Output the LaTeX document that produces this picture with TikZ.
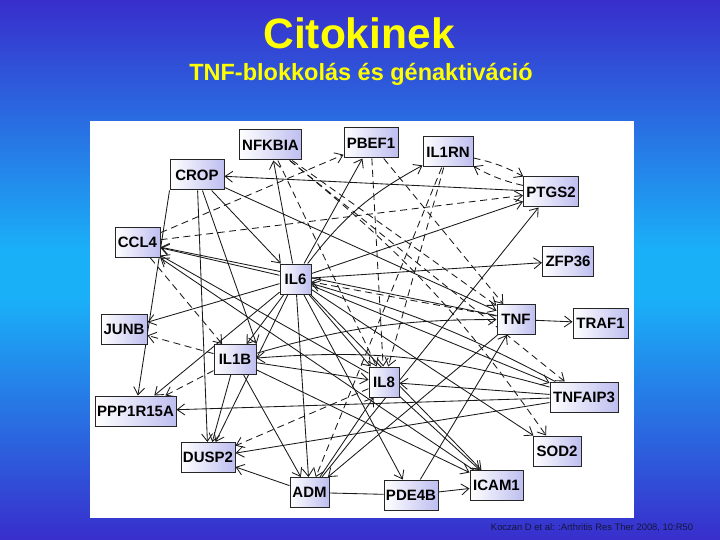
\documentclass[tikz,border=0pt]{standalone}
\usepackage{xcolor}
\usepackage{fontspec}
\setmainfont{Liberation Sans}
\usepackage{tikz}
\usetikzlibrary{shapes,arrows.meta,positioning}
\definecolor{skyDark}{RGB}{56, 46, 204}
\definecolor{skyLight}{RGB}{26, 176, 248}
\definecolor{geneFill}{RGB}{190, 190, 240}
\definecolor{titleYellow}{RGB}{255, 255, 0}
\definecolor{citeInk}{RGB}{20, 20, 60}
\pgfdeclarelayer{backdrop}
\pgfdeclarelayer{links}
\pgfsetlayers{backdrop,links,main}

\begin{document}
\begin{tikzpicture}[x=1pt, y=-1pt, font=\bfseries]
    \tikzstyle{gene} = [rectangle, draw=black!85, line width=1pt, left color=white, right color=geneFill, minimum height=30pt, inner sep=0pt, font=\fontsize{15}{16}\selectfont\bfseries]
    \tikzstyle{line} = [draw, -{Straight Barb[length=7.5pt,width=11pt]}, line width=0.85pt, black!90]
    \tikzstyle{dline} = [line, dash pattern=on 7pt off 4.5pt]

    % background and panel
    \useasboundingbox (0,0) rectangle (720,540);
    \begin{pgfonlayer}{backdrop}
    \fill [top color=skyDark, bottom color=skyLight] (0,0) rectangle (720,250);
    \fill [skyLight] (0,249) rectangle (720,300);
    \fill [top color=skyLight, bottom color=skyDark] (0,299) rectangle (720,540);
    \fill [white] (90,121) rectangle (634,518);
    \end{pgfonlayer}

    % titles
    \node [text=titleYellow, font=\fontsize{42.5}{46}\selectfont\bfseries] (title) at (359,33) {Citokinek};
    \node [text=titleYellow, font=\fontsize{23.5}{26}\selectfont\bfseries] (subtitle) at (361,74) {TNF-blokkolás és génaktiváció};
    \node [text=citeInk, font=\fontsize{9.4}{11}\selectfont] (cite) at (592,528) {Koczan D et al: :Arthritis Res Ther 2008, 10:R50};

    % genes
    \node [gene, minimum width=62pt] (nfkbia) at (270.5,145) {NFKBIA};
    \node [gene, minimum width=54pt] (pbef1) at (371,143) {PBEF1};
    \node [gene, minimum width=50pt] (il1rn) at (448,152) {IL1RN};
    \node [gene, minimum width=54pt] (crop) at (197,175) {CROP};
    \node [gene, minimum width=55pt] (ptgs2) at (551,192) {PTGS2};
    \node [gene, minimum width=45pt] (ccl4) at (137.5,242.5) {CCL4};
    \node [gene, minimum width=51pt] (zfp36) at (568,261) {ZFP36};
    \node [gene, minimum width=31pt] (il6) at (295.5,279) {IL6};
    \node [gene, minimum width=38pt] (tnf) at (516,319.5) {TNF};
    \node [gene, minimum width=55pt] (traf1) at (600.5,323) {TRAF1};
    \node [gene, minimum width=46pt] (junb) at (124,329) {JUNB};
    \node [gene, minimum width=42pt] (il1b) at (235,359.5) {IL1B};
    \node [gene, minimum width=30pt] (il8) at (384,382) {IL8};
    \node [gene, minimum width=68pt] (tnfaip3) at (584,397) {TNFAIP3};
    \node [gene, minimum width=81pt] (ppp1r15a) at (135.5,411) {PPP1R15A};
    \node [gene, minimum width=48pt] (sod2) at (557,451) {SOD2};
    \node [gene, minimum width=54pt] (dusp2) at (208,457.5) {DUSP2};
    \node [gene, minimum width=39pt] (adm) at (309.5,492.5) {ADM};
    \node [gene, minimum width=54pt] (pde4b) at (411,495) {PDE4B};
    \node [gene, minimum width=53pt] (icam1) at (496.5,485.5) {ICAM1};

    % interactions
    \begin{pgfonlayer}{links}
    \path [line] (ptgs2) -- (crop);
    \path [line] (crop) -- (il6);
    \path [line] (crop.south west) -- (ppp1r15a);
    \path [line] (crop) -- (dusp2);
    \path [line] (crop) -- (il1b.north east);
    \path [line] (crop) -- (tnf);
    \path [line] (il6) -- (nfkbia);
    \path [line] (il6) -- (pbef1);
    \path [line] (il6) to[bend left=12] (il1rn);
    \path [line] (il6) -- (ptgs2);
    \path [line] (il6) -- (zfp36);
    \path [line] (il6) -- (ccl4);
    \path [line] (il6) -- (junb);
    \path [line] (il6) -- (ppp1r15a);
    \path [line] (il6) -- (il1b);
    \path [line] (il6) -- (dusp2);
    \path [line] (il6) -- (adm);
    \path [line] (il6) -- (pde4b);
    \path [line] (il6) -- (il8);
    \path [line] (il6) -- (icam1);
    \path [line] (il6) -- (sod2);
    \path [line] (il6) -- (tnfaip3);
    \path [dline] (tnf) -- (il6);
    \path [line] (tnfaip3) to[bend right=6] (il6);
    \path [dline] (ccl4) -- (pbef1);
    \path [dline] (ccl4) -- (ptgs2);
    \path [dline] (ccl4) -- (il1b);
    \path [line] (il8) -- (ccl4);
    \path [line] (tnf) -- (ccl4);
    \path [line] (icam1) -- (ccl4);
    \path [dline] (nfkbia) -- (tnf);
    \path [dline] (nfkbia) -- (il8);
    \path [dline] (nfkbia) to[bend left=8] (sod2);
    \path [dline] (nfkbia) -- (tnfaip3);
    \path [dline] (pbef1) -- (tnf);
    \path [dline] (pbef1) -- (il8);
    \path [dline] (il1rn) to[bend left=8] (ptgs2);
    \path [dline] (ptgs2) to[bend left=8] (il1rn);
    \path [dline] (il1rn) -- (il8);
    \path [dline] (il1rn) -- (adm);
    \path [line] (adm) -- (ptgs2);
    \path [line] (tnf) -- (traf1);
    \path [line] (il1b) to[bend left=8] (tnf);
    \path [line] (pde4b) -- (tnf);
    \path [line] (tnf) -- (adm);
    \path [dline] (il1b) -- (junb);
    \path [dline] (il1b) -- (ppp1r15a);
    \path [line] (il1b) -- (dusp2);
    \path [line] (il1b) -- (il8);
    \path [line] (il1b) -- (icam1);
    \path [line] (il1b) -- (adm);
    \path [line] (tnfaip3) to[bend right=10] (il1b);
    \path [line] (tnfaip3) -- (il8);
    \path [line] (tnfaip3) -- (ppp1r15a);
    \path [line] (tnfaip3) -- (dusp2);
    \path [dline] (il8) -- (dusp2);
    \path [line] (adm) -- (dusp2);
    \path [line] (adm) -- (il8);
    \path [line] (il8) -- (icam1);
    \path [line] (pde4b) -- (icam1);
    \draw [line width=0.85pt, black!90] (adm) -- (pde4b);
    \end{pgfonlayer}
\end{tikzpicture}
\end{document}
